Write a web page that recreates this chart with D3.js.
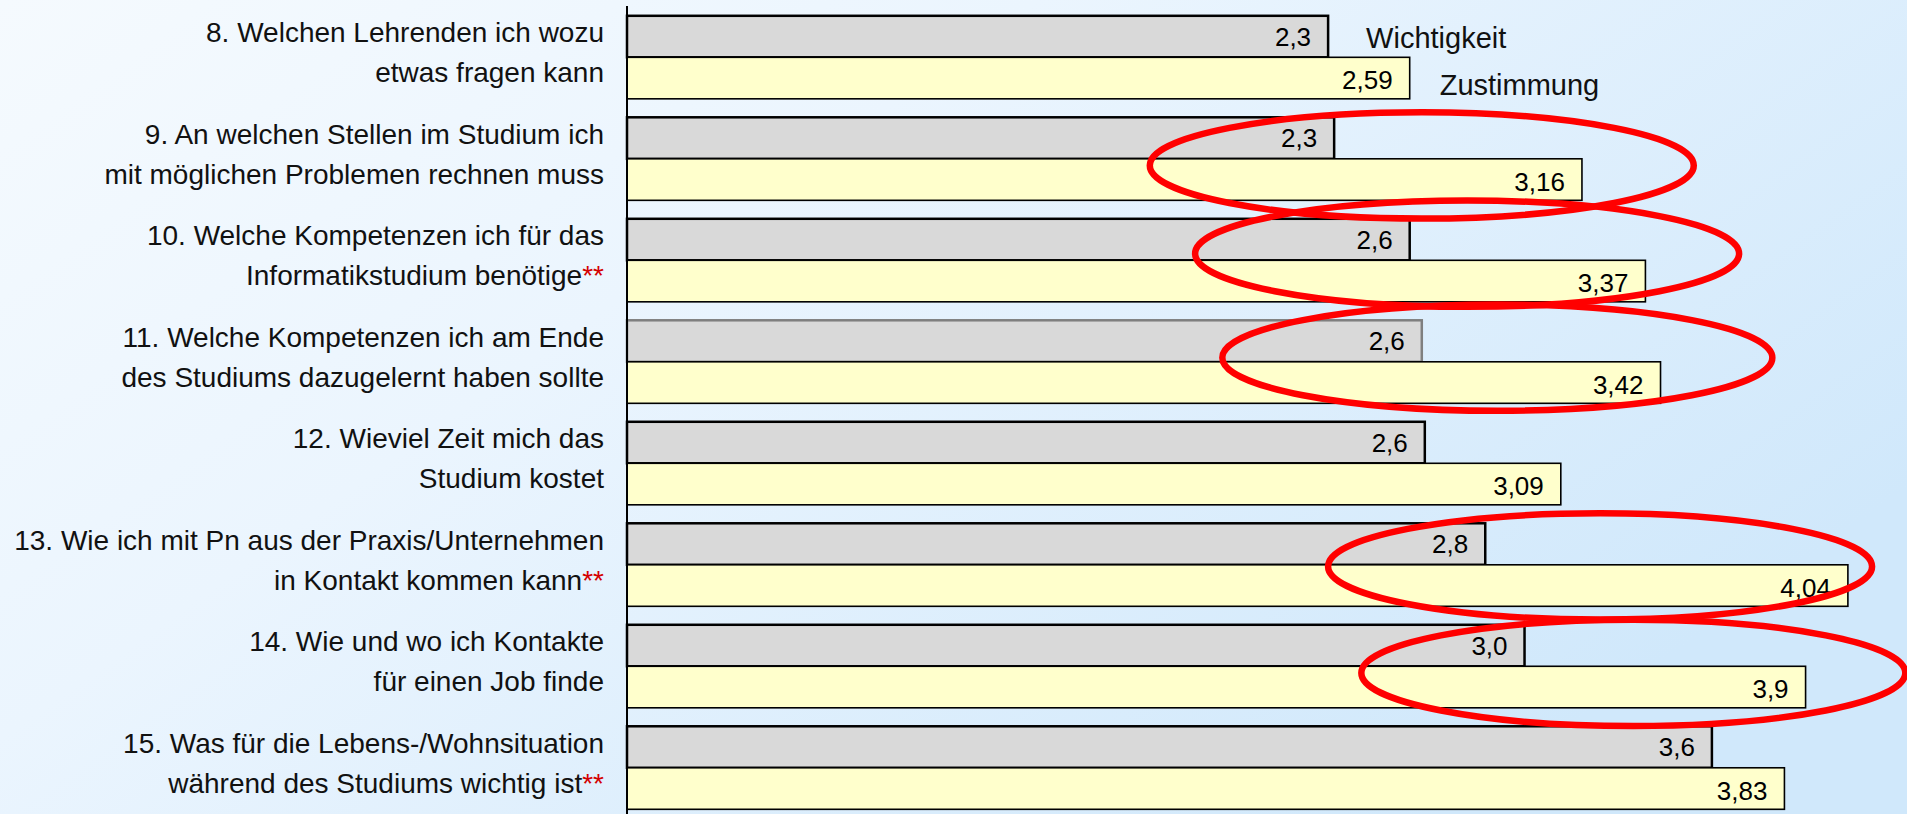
<!DOCTYPE html>
<html lang="de">
<head>
  <meta charset="utf-8" />
  <title>Wichtigkeit und Zustimmung</title>
  <script src="https://cdn.jsdelivr.net/npm/d3@7"></script>
  <style>
    body { margin: 0; overflow: hidden; }
    svg { display: block; font-family: "Liberation Sans", Arial, sans-serif; }
  </style>
</head>
<body>
  <div id="chart"></div>
  <script>
    // Fragen (Kategorien) und ihre Beschriftung in zwei Zeilen
    const categories = ["8", "9", "10", "11", "12", "13", "14", "15"];
    const labelLines = [
      ["8. Welchen Lehrenden ich wozu", "etwas fragen kann"],
      ["9. An welchen Stellen im Studium ich", "mit möglichen Problemen rechnen muss"],
      ["10. Welche Kompetenzen ich für das", "Informatikstudium benötige"],
      ["11. Welche Kompetenzen ich am Ende", "des Studiums dazugelernt haben sollte"],
      ["12. Wieviel Zeit mich das", "Studium kostet"],
      ["13. Wie ich mit Pn aus der Praxis/Unternehmen", "in Kontakt kommen kann"],
      ["14. Wie und wo ich Kontakte", "für einen Job finde"],
      ["15. Was für die Lebens-/Wohnsituation", "während des Studiums wichtig ist"]
    ];
    // ** = signifikant
    const significant = [false, false, true, false, false, true, false, true];

    // Werte
    const seriesNames = ["Wichtigkeit", "Zustimmung"];
    const wichtigkeit = [2.32, 2.34, 2.59, 2.63, 2.64, 2.84, 2.97, 3.59];
    const zustimmung = [2.59, 3.16, 3.37, 3.42, 3.09, 4.04, 3.9, 3.83];

    // rote Markierungen (Mitte und halbe Breite in Werteinheiten, Lage im Band 0..1)
    const highlights = [
      { cat: "9", center: 2.63, spread: 0.9, pos: 0.58 },
      { cat: "10", center: 2.78, spread: 0.9, pos: 0.42 },
      { cat: "11", center: 2.88, spread: 0.91, pos: 0.45 },
      { cat: "13", center: 3.22, spread: 0.9, pos: 0.52 },
      { cat: "14", center: 3.33, spread: 0.9, pos: 0.58 }
    ];

    const width = 1907;
    const height = 814;
    const axisX = 627;

    const data = categories.map((c, i) => ({
      cat: c, lines: labelLines[i], sig: significant[i],
      values: [
        { key: "Wichtigkeit", value: wichtigkeit[i], label: d3.format(".1f")(wichtigkeit[i]).replace(".", ",") },
        { key: "Zustimmung", value: zustimmung[i], label: String(zustimmung[i]).replace(".", ",") }
      ]
    }));

    const x = d3.scaleLinear().domain([0, 4.2]).range([axisX, axisX + 4.2 * 302.2]);
    const y0 = d3.scaleBand().domain(categories).range([15.8, 809.3]).paddingInner(0.182).paddingOuter(0);
    const y1 = d3.scaleBand().domain(seriesNames).range([0, y0.bandwidth()]);
    const fill = d3.scaleOrdinal(seriesNames, ["#d9d9d9", "#ffffcc"]);

    const svg = d3.select("#chart").append("svg")
      .attr("width", width)
      .attr("height", height)
      .attr("viewBox", [0, 0, width, height]);

    // Hintergrundverlauf
    const grad = svg.append("defs").append("linearGradient")
      .attr("id", "bg").attr("x1", 0).attr("y1", 0).attr("x2", 1).attr("y2", 0.6);
    grad.append("stop").attr("offset", 0).attr("stop-color", "#f5fafe");
    grad.append("stop").attr("offset", 0.4).attr("stop-color", "#ebf5fe");
    grad.append("stop").attr("offset", 1).attr("stop-color", "#d0e8fb");
    svg.append("rect").attr("width", width).attr("height", height).attr("fill", "url(#bg)");

    // Kategorie-Beschriftungen
    const labels = svg.append("g")
      .attr("font-size", 28)
      .attr("fill", "#111")
      .attr("text-anchor", "end")
      .selectAll("text")
      .data(data)
      .join("text")
      .attr("x", 604)
      .attr("y", d => y0(d.cat) + y0.bandwidth() / 2 - 15);
    labels.append("tspan").text(d => d.lines[0]);
    labels.append("tspan").attr("x", 604).attr("dy", 40).text(d => d.lines[1]);
    labels.filter(d => d.sig).append("tspan").attr("fill", "#d40000").text("**");

    // Balken
    const group = svg.append("g")
      .selectAll("g")
      .data(data)
      .join("g")
      .attr("transform", d => `translate(0,${y0(d.cat)})`);

    group.selectAll("rect")
      .data(d => d.values.map(v => ({ ...v, cat: d.cat })))
      .join("rect")
      .attr("x", x(0))
      .attr("y", d => y1(d.key))
      .attr("width", d => x(d.value) - x(0))
      .attr("height", y1.bandwidth())
      .attr("fill", d => fill(d.key))
      .attr("stroke", d => d.key === "Wichtigkeit" && d.cat === "11" ? "#7f7f7f" : "#000")
      .attr("stroke-width", d => d.key === "Wichtigkeit" ? 2.5 : 1.6);

    group.selectAll("text")
      .data(d => d.values)
      .join("text")
      .attr("x", d => x(d.value) - 17)
      .attr("y", d => y1(d.key) + y1.bandwidth() / 2)
      .attr("dy", d => d.key === "Wichtigkeit" ? 9 : 11)
      .attr("text-anchor", "end")
      .attr("font-size", 26)
      .attr("fill", "#000")
      .text(d => d.label);

    // Achse
    svg.append("line")
      .attr("x1", axisX).attr("x2", axisX)
      .attr("y1", 6).attr("y2", height)
      .attr("stroke", "#000").attr("stroke-width", 2);

    // Legende neben der ersten Kategorie
    const first = data[0];
    svg.append("g")
      .attr("font-size", 29)
      .attr("fill", "#111")
      .selectAll("text")
      .data(first.values)
      .join("text")
      .attr("x", (d, i) => x(d.value) + (i === 0 ? 38 : 30))
      .attr("y", (d, i) => y0(first.cat) + y1(d.key) + y1.bandwidth() / 2 + (i === 0 ? 11 : 17))
      .text(d => d.key);

    // rote Ellipsen
    svg.append("g")
      .selectAll("ellipse")
      .data(highlights)
      .join("ellipse")
      .attr("cx", d => x(d.center))
      .attr("cy", d => y0(d.cat) + d.pos * y0.bandwidth())
      .attr("rx", d => x(d.spread) - x(0))
      .attr("ry", y0.bandwidth() * 0.64)
      .attr("fill", "none")
      .attr("stroke", "#ff0000")
      .attr("stroke-width", 6.5);
  </script>
</body>
</html>
